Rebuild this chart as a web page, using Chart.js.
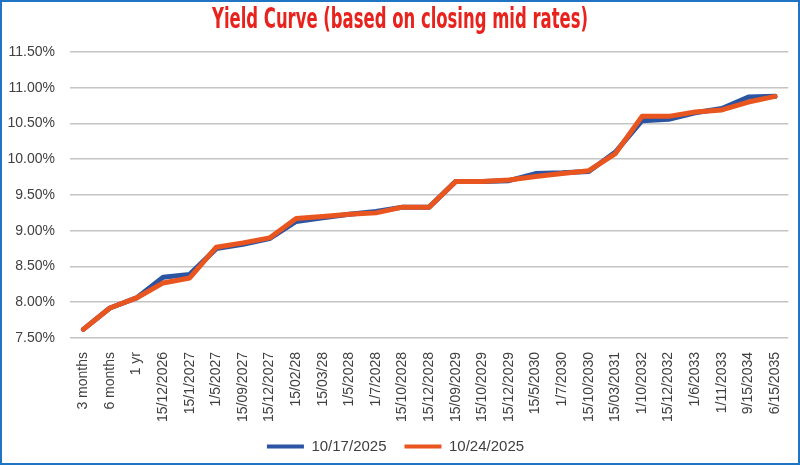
<!DOCTYPE html>
<html lang="en">
<head>
    <meta charset="UTF-8">
    <title>Yield Curve</title>
    <style>
        body {
    margin: 0;
    background-color: #ffffff;
}

.frame {
    width: 800px;
    height: 465px;
    box-sizing: border-box;
    border: 2px solid #1f74c4; /* blue frame round the picture */
    background: #ffffff;
}

#yieldChart {
    display: block;
}
    </style>
    <script src="https://cdn.jsdelivr.net/npm/chart.js"></script>
</head>
<body>

    <div class="frame">
        <canvas id="yieldChart" width="796" height="461"></canvas>
    </div>

    <script>
        const tenors = ['3 months', '6 months', '1 yr', '15/12/2026', '15/1/2027', '1/5/2027', '15/09/2027',
            '15/12/2027', '15/02/28', '15/03/28', '1/5/2028', '1/7/2028', '15/10/2028', '15/12/2028',
            '15/09/2029', '15/10/2029', '15/12/2029', '15/5/2030', '1/7/2030', '15/10/2030', '15/03/2031',
            '1/10/2032', '15/12/2032', '1/6/2033', '1/11/2033', '9/15/2034', '6/15/2035'];

        // closing mid rates, in percent
        const rates1017 = [7.62, 7.92, 8.06, 8.35, 8.39, 8.75, 8.81, 8.89, 9.13, 9.18, 9.23, 9.27, 9.33, 9.33,
            9.69, 9.69, 9.70, 9.80, 9.81, 9.83, 10.10, 10.54, 10.56, 10.65, 10.71, 10.87, 10.88];
        const rates1024 = [7.62, 7.92, 8.06, 8.27, 8.34, 8.77, 8.83, 8.90, 9.17, 9.20, 9.23, 9.25, 9.33, 9.33,
            9.69, 9.69, 9.71, 9.76, 9.80, 9.84, 10.08, 10.60, 10.60, 10.66, 10.69, 10.80, 10.88];

        const seriesNames = ['10/17/2025', '10/24/2025'];
        const titleText = 'Yield Curve (based on closing mid rates)';

        const blue = '#2b54a3';
        const orange = '#e9551f';
        const tickFont = { family: 'Liberation Sans', size: 14 };

        // the title is a tall condensed face, so squeeze a bold one to the same width
        const condensedTitle = {
            id: 'condensedTitle',
            afterDraw: function (chart) {
                const c = chart.ctx;
                c.save();
                c.font = "bold 28px 'DejaVu Sans Condensed', 'DejaVu Sans', sans-serif";
                c.fillStyle = '#e8221c';
                c.textAlign = 'center';
                c.textBaseline = 'middle';
                const w = c.measureText(titleText).width;
                const sx = 376 / w;
                c.translate(398, 19);
                c.scale(sx, 1);
                c.fillText(titleText, 0, 0);
                c.restore();
            }
        };

        const ctx = document.getElementById('yieldChart').getContext('2d');
        const yieldChart = new Chart(ctx, {
            type: 'line',
            data: {
                labels: tenors,
                datasets: [
                    {
                        label: seriesNames[0],
                        data: rates1017,
                        borderColor: blue,
                        backgroundColor: blue,
                        borderWidth: 5,
                        pointRadius: 0,
                        tension: 0,
                        borderJoinStyle: 'round',
                        borderCapStyle: 'round',
                        order: 2
                    },
                    {
                        label: seriesNames[1],
                        data: rates1024,
                        borderColor: orange,
                        backgroundColor: orange,
                        borderWidth: 5,
                        pointRadius: 0,
                        tension: 0,
                        borderJoinStyle: 'round',
                        borderCapStyle: 'round',
                        order: 1
                    }
                ]
            },
            options: {
                responsive: false,
                animation: false,
                layout: {
                    padding: { left: 0, right: 9, top: 50, bottom: 1 }
                },
                plugins: {
                    title: { display: false },
                    legend: {
                        position: 'bottom',
                        maxHeight: 41,
                        labels: {
                            boxWidth: 37,
                            boxHeight: 4,
                            color: '#404040',
                            font: { family: 'Liberation Sans', size: 15 },
                            padding: 18,
                            sort: function (a, b) {
                                return a.datasetIndex - b.datasetIndex;
                            },
                            generateLabels: function (chart) {
                                const items = Chart.defaults.plugins.legend.labels.generateLabels(chart);
                                items.forEach(function (it) { it.lineWidth = 0; });
                                return items;
                            }
                        }
                    },
                    tooltip: { enabled: false }
                },
                scales: {
                    x: {
                        offset: true,
                        grid: { display: false },
                        border: { display: false },
                        ticks: {
                            autoSkip: false,
                            minRotation: 90,
                            maxRotation: 90,
                            color: '#404040',
                            font: tickFont,
                            padding: 6
                        },
                        afterFit: function (scale) {
                            scale.height = 83;
                        }
                    },
                    y: {
                        min: 7.5,
                        max: 11.5,
                        grid: {
                            color: '#c4c4c4',
                            lineWidth: 1.6,
                            drawTicks: false
                        },
                        border: { display: false },
                        ticks: {
                            stepSize: 0.5,
                            color: '#404040',
                            font: tickFont,
                            padding: 15,
                            callback: function (value) {
                                return value.toFixed(2) + '%';
                            }
                        },
                        afterFit: function (scale) {
                            scale.width = 68;
                        }
                    }
                }
            },
            plugins: [condensedTitle]
        });
    </script>

</body>
</html>
